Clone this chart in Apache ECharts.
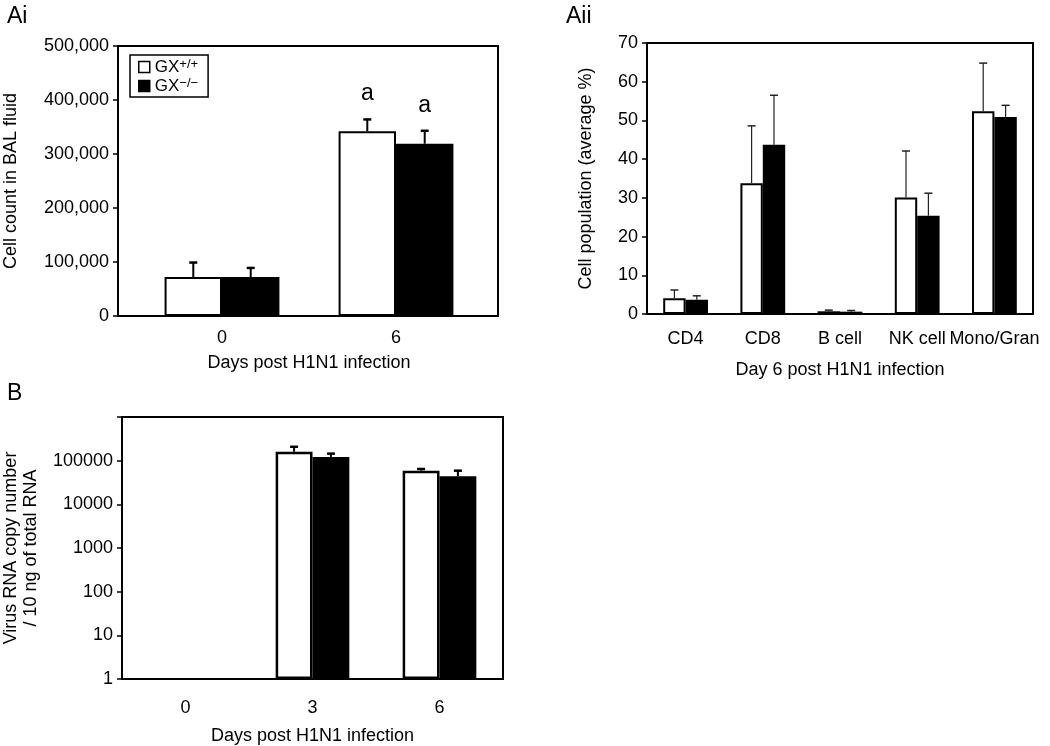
<!DOCTYPE html>
<html>
<head>
<meta charset="utf-8">
<script src="https://cdn.jsdelivr.net/npm/echarts@6/dist/echarts.min.js"></script>
<style>
html,body{margin:0;padding:0;background:#fff;}
#c{width:1050px;height:746px;}
</style>
</head>
<body>
<div id="c"></div>
<script>
// ---- Data ----
// Panel Ai: total cells in BAL fluid
const aiCategories = ['0', '6'];
const aiWT = [72000, 342000];
const aiWTErr = [27000, 22000];
const aiKO = [72000, 319000];
const aiKOErr = [17000, 24000];
const aiWTMarks = ['', 'a'];
const aiKOMarks = ['', 'a'];

// Panel Aii: cell populations at day 6
const aiiCategories = ['CD4', 'CD8', 'B cell', 'NK cell', 'Mono/Gran'];
const aiiWT = [4.1, 33.8, 0.7, 30.1, 52.4];
const aiiWTErr = [2.1, 14.8, 0.3, 12.0, 12.4];
const aiiKO = [3.7, 43.7, 0.6, 25.4, 50.9];
const aiiKOErr = [1.0, 12.8, 0.3, 5.8, 3.0];

// Panel B: virus RNA copy number (log scale)
const bCategories = ['0', '3', '6'];
const bWT = [null, 160000, 59000];
const bWTErr = [null, 48000, 5500];
const bKO = [null, 122000, 44000];
const bKOErr = [null, 23000, 15000];

const seriesNames = ['GX+/+', 'GX-/-'];

// ---- Helpers ----
const FONT = 'Liberation Sans, Arial, sans-serif';
const TXT = '#000';
const FS = 18;

function errData(means, errs, marks) {
  const out = [];
  means.forEach((m, i) => {
    if (m == null) return;
    out.push([i, m, errs[i], marks ? marks[i] : '']);
  });
  return out;
}

function errSeries(name, gridIdx, slot, barFrac, means, errs, marks, st) {
  return {
    type: 'custom',
    name: name,
    xAxisIndex: gridIdx,
    yAxisIndex: gridIdx,
    z: 5,
    silent: true,
    data: errData(means, errs, marks),
    renderItem: function (params, api) {
      const ci = api.value(0), m = api.value(1), e = api.value(2);
      const mark = api.value(3);
      const p0 = api.coord([ci, m]);
      const band = api.size([1, 0])[0];
      const bw = band * barFrac;
      const x = p0[0] + (slot === 0 ? -bw / 2 : bw / 2);
      const yTop = api.coord([ci, m + e])[1];
      const y0 = p0[1];
      const children = [
        { type: 'line', shape: { x1: x, y1: y0, x2: x, y2: yTop },
          style: { stroke: st.color, lineWidth: st.w } },
        { type: 'line', shape: { x1: x - st.cap / 2, y1: yTop, x2: x + st.cap / 2, y2: yTop },
          style: { stroke: st.color, lineWidth: st.capW } }
      ];
      if (mark) {
        children.push({ type: 'text', x: x, y: yTop - 14,
          style: { text: mark, fill: TXT, fontSize: 23, fontFamily: FONT,
                   align: 'center', verticalAlign: 'bottom' } });
      }
      return { type: 'group', children: children };
    }
  };
}

function barSeries(name, gridIdx, data, isWT, frac, bw) {
  return {
    type: 'bar',
    name: name,
    xAxisIndex: gridIdx,
    yAxisIndex: gridIdx,
    data: data,
    barWidth: frac * 100 + '%',
    barGap: '0%',
    z: 3,
    itemStyle: {
      color: isWT ? '#ffffff' : '#000000',
      borderColor: '#000',
      borderWidth: bw
    }
  };
}

const catAxisBase = {
  type: 'category',
  axisLine: { lineStyle: { color: '#000', width: 2 } },
  axisLabel: { color: TXT, fontSize: FS, fontFamily: FONT, interval: 0 },
  nameLocation: 'middle',
  nameTextStyle: { color: TXT, fontSize: FS, fontFamily: FONT },
  splitLine: { show: false }
};
const valAxisBase = {
  axisLine: { show: true, lineStyle: { color: '#000', width: 2 } },
  axisTick: { show: true, inside: false, length: 5, lineStyle: { color: '#000', width: 1.5 } },
  axisLabel: { color: TXT, fontSize: FS, fontFamily: FONT, margin: 9 },
  splitLine: { show: false },
  nameLocation: 'middle',
  nameRotate: 90,
  nameTextStyle: { color: TXT, fontSize: FS, fontFamily: FONT }
};

const chart = echarts.init(document.getElementById('c'));
const frameStyle = { show: true, borderColor: '#000', borderWidth: 2, backgroundColor: 'transparent' };

const option = {
  animation: false,
  backgroundColor: '#fff',
  title: [
    { text: 'Ai', left: 2, top: 0, textStyle: { fontSize: 23, fontWeight: 'normal', color: TXT, fontFamily: FONT } },
    { text: 'Aii', left: 561, top: 0, textStyle: { fontSize: 23, fontWeight: 'normal', color: TXT, fontFamily: FONT } },
    { text: 'B', left: 2, top: 377, textStyle: { fontSize: 23, fontWeight: 'normal', color: TXT, fontFamily: FONT } }
  ],
  legend: {
    data: seriesNames,
    orient: 'vertical',
    left: 130,
    top: 55,
    itemWidth: 11,
    itemHeight: 11,
    itemGap: 1,
    padding: [3, 10, 2, 8],
    borderColor: '#000',
    borderWidth: 1.5,
    icon: 'rect',
    selectedMode: false,
    itemStyle: { borderWidth: 1.5 },
    formatter: function (n) { return n === 'GX+/+' ? 'GX{s|+/+}' : 'GX{s|−/−}'; },
    textStyle: {
      color: TXT, fontSize: 17, fontFamily: FONT, lineHeight: 18,
      rich: { s: { fontSize: 13, fontFamily: FONT, color: TXT, verticalAlign: 'top', lineHeight: 13, padding: [0, 0, 5, 0] } }
    }
  },
  grid: [
    { left: 135, top: 46, width: 348, height: 270, show: false },
    Object.assign({ left: 647, top: 43, width: 386, height: 271 }, frameStyle),
    Object.assign({ left: 121, top: 417, width: 382, height: 270 }, frameStyle),
    Object.assign({ left: 118, top: 46, width: 380, height: 270 }, frameStyle)
  ],
  xAxis: [
    Object.assign({}, catAxisBase, {
      gridIndex: 0, data: aiCategories,
      name: 'Days post H1N1 infection', nameGap: 38,
      axisTick: { show: false },
      axisLabel: Object.assign({}, catAxisBase.axisLabel, { margin: 13 })
    }),
    Object.assign({}, catAxisBase, {
      gridIndex: 1, data: aiiCategories,
      name: 'Day 6 post H1N1 infection', nameGap: 47,
      axisTick: { show: false },
      axisLabel: Object.assign({}, catAxisBase.axisLabel, { margin: 16 })
    }),
    Object.assign({}, catAxisBase, {
      gridIndex: 2, data: bCategories,
      name: 'Days post H1N1 infection', nameGap: 48,
      axisTick: { show: false },
      axisLabel: Object.assign({}, catAxisBase.axisLabel, { margin: 20 })
    }),
    { gridIndex: 3, type: 'value', show: false, min: 0, max: 1 }
  ],
  yAxis: [
    Object.assign({}, valAxisBase, {
      gridIndex: 0, type: 'value', min: 0, max: 500000, interval: 100000,
      offset: 17,
      name: 'Cell count in BAL fluid', nameGap: 98,
      axisLabel: Object.assign({}, valAxisBase.axisLabel, {
        formatter: function (v) { return String(Math.round(v)).replace(/\B(?=(\d{3})+(?!\d))/g, ','); }
      })
    }),
    Object.assign({}, valAxisBase, {
      gridIndex: 1, type: 'value', min: 0, max: 70, interval: 10,
      name: 'Cell population (average %)', nameGap: 52
    }),
    Object.assign({}, valAxisBase, {
      gridIndex: 2, type: 'log', logBase: 10, min: 1, max: 1000000,
      name: 'Virus RNA copy number\n/ 10 ng of total RNA', nameGap: 81,
      nameTextStyle: { color: TXT, fontSize: FS, fontFamily: FONT, lineHeight: 20 },
      axisLabel: Object.assign({}, valAxisBase.axisLabel, {
        formatter: function (v) { const r = Math.round(v); return r >= 1000000 ? '' : String(r); }
      })
    }),
    { gridIndex: 3, type: 'value', show: false, min: 0, max: 1 }
  ],
  series: [
    barSeries(seriesNames[0], 0, aiWT, true, 0.33, 2),
    barSeries(seriesNames[1], 0, aiKO, false, 0.33, 2),
    errSeries(seriesNames[0], 0, 0, 0.33, aiWT, aiWTErr, aiWTMarks, { color: '#000', w: 2, capW: 2.5, cap: 8 }),
    errSeries(seriesNames[1], 0, 1, 0.33, aiKO, aiKOErr, aiKOMarks, { color: '#000', w: 2, capW: 2.5, cap: 8 }),

    barSeries(seriesNames[0], 1, aiiWT, true, 0.29, 2),
    barSeries(seriesNames[1], 1, aiiKO, false, 0.29, 2),
    errSeries(seriesNames[0], 1, 0, 0.29, aiiWT, aiiWTErr, null, { color: '#222', w: 1.2, capW: 1.5, cap: 8 }),
    errSeries(seriesNames[1], 1, 1, 0.29, aiiKO, aiiKOErr, null, { color: '#222', w: 1.2, capW: 1.5, cap: 8 }),

    barSeries(seriesNames[0], 2, bWT, true, 0.29, 2.5),
    barSeries(seriesNames[1], 2, bKO, false, 0.29, 2.5),
    errSeries(seriesNames[0], 2, 0, 0.29, bWT, bWTErr, null, { color: '#000', w: 2, capW: 2.5, cap: 8 }),
    errSeries(seriesNames[1], 2, 1, 0.29, bKO, bKOErr, null, { color: '#000', w: 2, capW: 2.5, cap: 8 })
  ]
};
chart.setOption(option);
</script>
</body>
</html>
